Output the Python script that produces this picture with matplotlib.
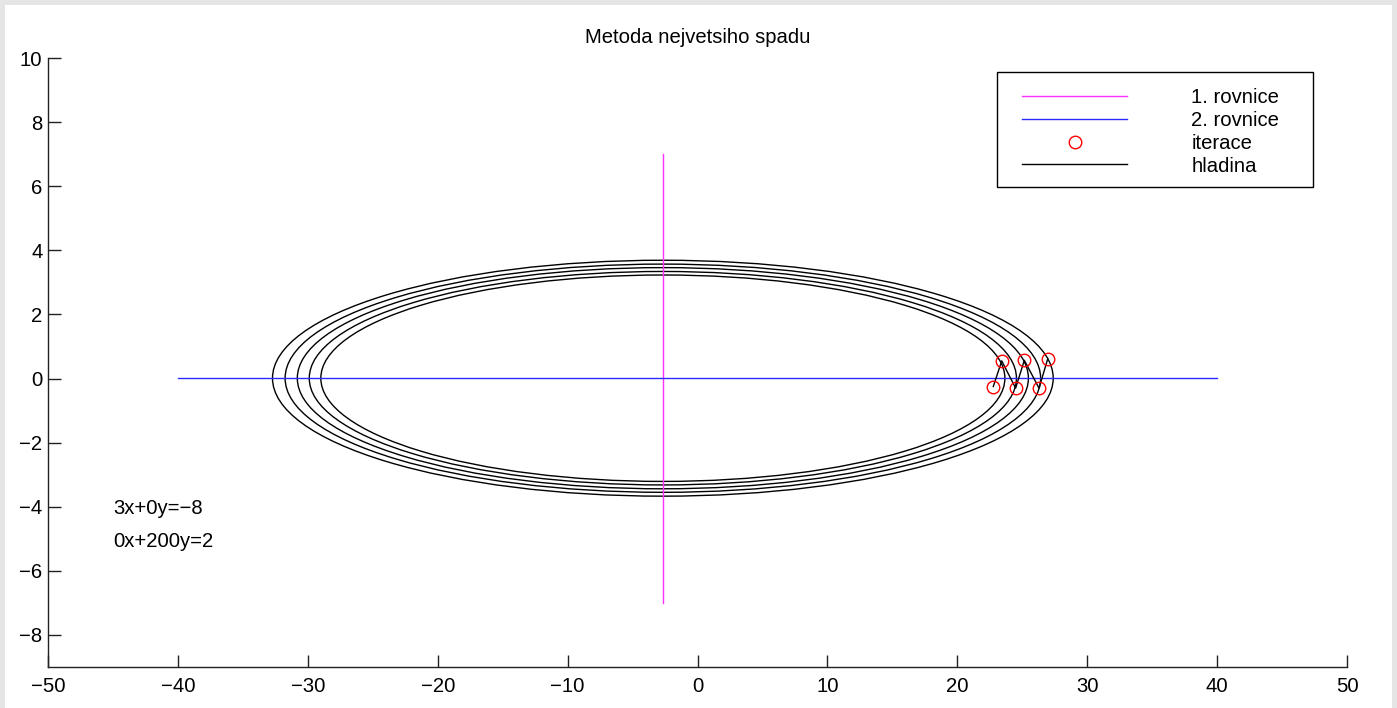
import numpy as np
import matplotlib
matplotlib.use("Agg")
from matplotlib import pyplot as plt
from matplotlib.patches import Ellipse, Rectangle

plt.rcParams['font.family'] = ['Liberation Sans', 'DejaVu Sans']

# soustava: 3x + 0y = -8, 0x + 200y = 2
eq1_x = -8 / 3
eq1_y = [-7, 7]
eq2_x = [-40, 40]
eq2_y = 0.01

# stred hladin a poloosy
center = (-2.667, 0.01)
semi_x = [30.05, 29.08, 28.14, 27.22, 26.33]
semi_y = [3.68, 3.56, 3.45, 3.33, 3.22]

# iterace metody nejvetsiho spadu
iter_x = [26.96, 26.29, 25.16, 24.49, 23.42, 22.77]
iter_y = [0.61, -0.30, 0.57, -0.30, 0.55, -0.25]

labels = ['1. rovnice', '2. rovnice', 'iterace', 'hladina']
notes = ['3x+0y=\u22128', '0x+200y=2']

W, H = 1397, 708
fs = 14.6
fig = plt.figure(figsize=(W / 100, H / 100), dpi=100, facecolor='#e5e5e5')
# bily panel uvnitr sedeho okraje
fig.patches.append(Rectangle((5 / W, 0), (1392 - 5) / W, (H - 5) / H,
                             transform=fig.transFigure, facecolor='white',
                             edgecolor='none', zorder=-10))
ax = fig.add_axes([48 / W, 1 - 667 / H, (1347 - 48) / W, (667 - 58) / H])
ax.set_facecolor('none')

l1, = ax.plot([eq1_x, eq1_x], eq1_y, color='#ff30ff', lw=1.0)
l2, = ax.plot(eq2_x, [eq2_y, eq2_y], color='#2a2aff', lw=1.0)
ax.plot(iter_x, iter_y, color='black', lw=1.0)
pts, = ax.plot(iter_x, iter_y, 'o', mfc='none', mec='red', ms=9, mew=1.0, ls='none')
for a, b in zip(semi_x, semi_y):
    ax.add_patch(Ellipse(center, 2 * a, 2 * b, fill=False, edgecolor='black', lw=1.0))
lev, = ax.plot([], [], color='black', lw=1.0)

ax.text(-45, -4.05, notes[0], fontsize=fs, va='center', ha='left')
ax.text(-45, -5.1, notes[1], fontsize=fs, va='center', ha='left')

ax.set_xlim(-50, 50)
ax.set_ylim(-9, 10)
ax.set_xticks(np.arange(-50, 51, 10))
ax.set_yticks(np.arange(-8, 11, 2))
ax.spines['top'].set_visible(False)
ax.spines['right'].set_visible(False)
for s in ('left', 'bottom'):
    ax.spines[s].set_color('#222222')
    ax.spines[s].set_linewidth(1.0)
ax.tick_params(direction='in', length=9, width=1.0, color='#222222', labelsize=fs)
ax.tick_params(axis='x', pad=7.5)
ax.tick_params(axis='y', pad=4)

ax.set_title('Metoda nejvetsiho spadu', fontsize=fs, pad=11)

# ramecek legendy zvlast, aby sedel rozmer
def px2ax(px, py):
    return (px - 48) / 1299, 1 - (py - 58) / 609

x0, y0 = px2ax(997, 187)
x1, y1 = px2ax(1313, 72)
ax.add_patch(Rectangle((x0, y0), x1 - x0, y1 - y0, transform=ax.transAxes,
                       facecolor='white', edgecolor='black', lw=1.0, zorder=4))
leg = ax.legend([l1, l2, pts, lev], labels, loc='upper left',
                bbox_to_anchor=px2ax(1022, 88), frameon=False,
                fontsize=fs, handlelength=5.2, handletextpad=3.15,
                borderpad=0, labelspacing=0.19, borderaxespad=0)
leg.set_zorder(5)

fig.savefig('out.png', dpi=100, facecolor=fig.get_facecolor())
